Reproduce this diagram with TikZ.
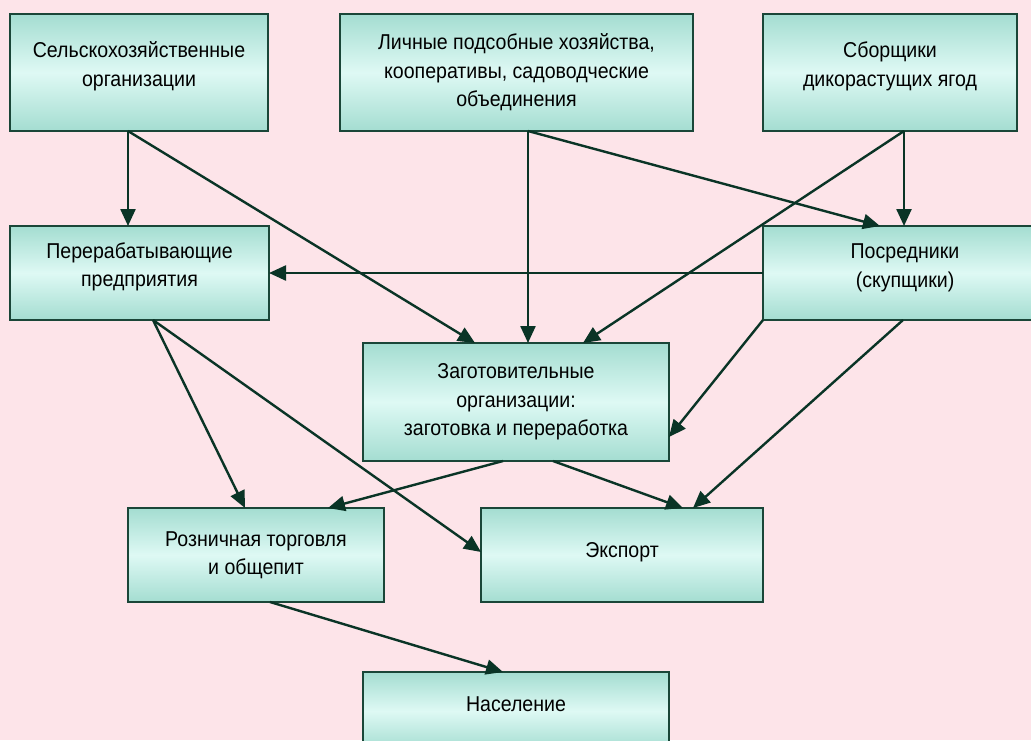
\documentclass[tikz,border=0pt]{standalone}
\usepackage{fontspec}
\setmainfont{Liberation Sans}[FakeStretch=0.91]
\usepackage{tikz}
\usetikzlibrary{arrows.meta}
\usetikzlibrary{positioning}
\definecolor{bgpink}{RGB}{253,228,233}
\definecolor{boxteal}{RGB}{164,221,209}
\definecolor{boxlight}{RGB}{222,249,244}
\definecolor{boxline}{RGB}{26,70,56}
\definecolor{arrline}{RGB}{10,52,38}
\newcommand{\boxtext}{\fontsize{21.5}{28.5}\selectfont}

\begin{document}
\begin{tikzpicture}[x=1pt, y=-1pt,
	every node/.style={inner sep=0pt, outer sep=0pt},
	stage/.style={draw=boxline, line width=2pt, rectangle, align=center,
		top color=boxteal, bottom color=boxteal, middle color=boxlight,
		font=\boxtext},
	lift/.style={text depth=#1},
	flow/.style={draw=arrline, line width=2.4pt, -{Triangle[length=17pt,width=15pt]}}]
	% The frame:
	\clip (0,0) rectangle (1031,740);
	\fill[bgpink] (0,0) rectangle (1031,740);
	% Sources:
	\node[stage, lift=16.5pt, minimum width=258, minimum height=117] (agro) at (139,72.5)
		{Сельскохозяйственные\\организации};
	\node[stage, minimum width=353, minimum height=117] (farms) at (516.5,72.5)
		{Личные подсобные хозяйства,\\кооперативы, садоводческие\\объединения};
	\node[stage, lift=16.5pt, minimum width=254, minimum height=117] (pickers) at (890,72.5)
		{Сборщики\\дикорастущих ягод};
	% Middle level:
	\node[stage, lift=16.5pt, minimum width=259, minimum height=94] (plants) at (139.5,273)
		{Перерабатывающие\\предприятия};
	\node[stage, lift=15pt, minimum width=284, minimum height=94] (dealers) at (905,273)
		{Посредники\\(скупщики)};
	\node[stage, minimum width=306, minimum height=118] (procure) at (516,402)
		{Заготовительные\\организации:\\заготовка и переработка};
	% Outlets:
	\node[stage, minimum width=256, minimum height=94] (retail) at (256,555)
		{Розничная торговля\\и общепит};
	\node[stage, lift=10.5pt, minimum width=282, minimum height=94] (export) at (622,555)
		{Экспорт};
	\node[stage, lift=14pt, minimum width=306, minimum height=78] (people) at (516,711)
		{Население};
	% Flows:
	\draw[flow] ([xshift=-11pt]agro.south) -- ([xshift=-11pt]agro.south |- plants.north);
	\draw[flow] ([xshift=-11pt]agro.south) -- ([xshift=-41pt]procure.north);
	\draw[flow] ([xshift=11.5pt]farms.south) -- ([xshift=11.5pt]farms.south |- procure.north);
	\draw[flow] ([xshift=11.5pt]farms.south) -- ([xshift=-25pt]dealers.north);
	\draw[flow] ([xshift=14pt]pickers.south) -- ([xshift=14pt]pickers.south |- dealers.north);
	\draw[flow] ([xshift=14pt]pickers.south) -- ([xshift=67pt]procure.north);
	\draw[flow] (dealers.west) -- (dealers.west -| plants.east);
	\draw[flow] (dealers.south west) -- ([yshift=-35pt]procure.east);
	\draw[flow] ([xshift=-2pt]dealers.south) -- ([xshift=71pt]export.north);
	\draw[flow] ([xshift=13.5pt]plants.south) -- ([xshift=-11pt]retail.north);
	\draw[flow] ([xshift=13.5pt]plants.south) -- ([yshift=3pt]export.west);
	\draw[flow] ([xshift=-13pt]procure.south) -- ([xshift=72pt]retail.north);
	\draw[flow] ([xshift=37pt]procure.south) -- ([xshift=61pt]export.north);
	\draw[flow] ([xshift=14pt]retail.south) -- ([xshift=-13pt]people.north);
\end{tikzpicture}
\end{document}
